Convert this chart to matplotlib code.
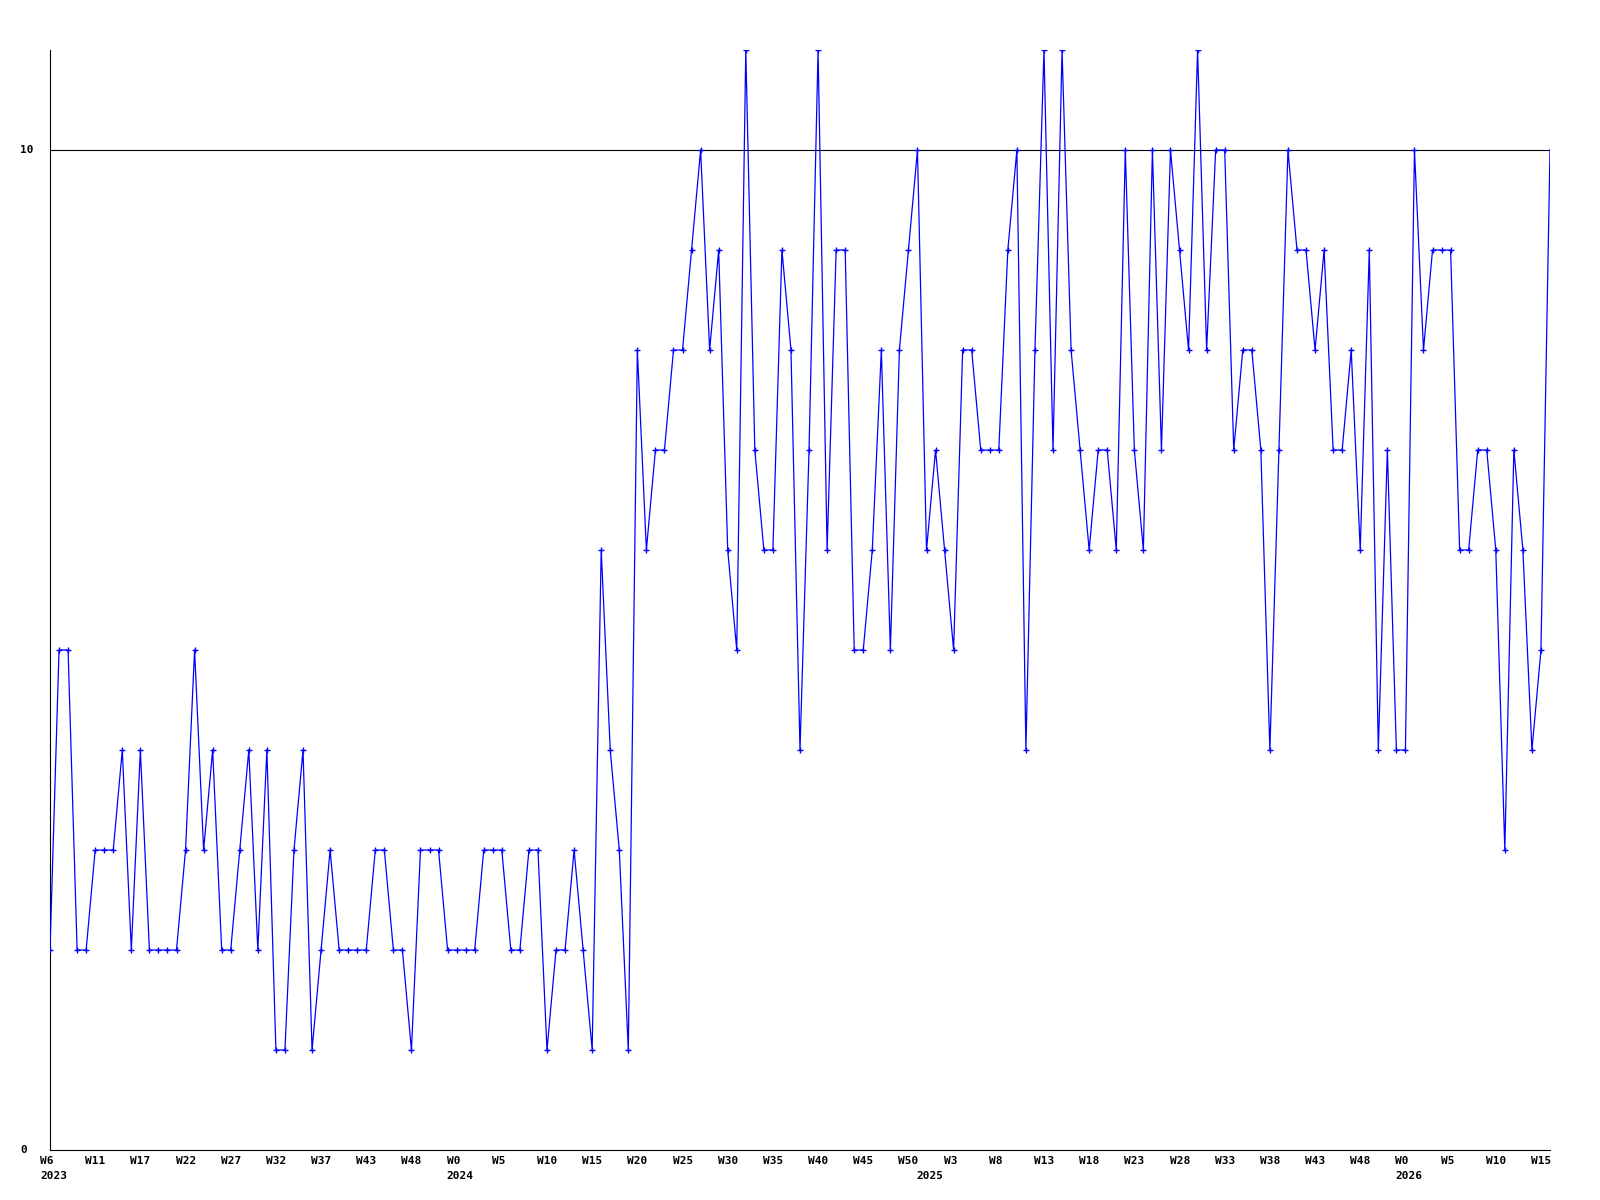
import matplotlib
matplotlib.use('Agg')
import matplotlib.pyplot as plt

# weekly values, W6 2023 .. W15 2026
values = [2, 5, 5, 2, 2, 3, 3, 3, 4, 2,
          4, 2, 2, 2, 2, 3, 5, 3, 4, 2,
          2, 3, 4, 2, 4, 1, 1, 3, 4, 1,
          2, 3, 2, 2, 2, 2, 3, 3, 2, 2,
          1, 3, 3, 3, 2, 2, 2, 2, 3, 3,
          3, 2, 2, 3, 3, 1, 2, 2, 3, 2,
          1, 6, 4, 3, 1, 8, 6, 7, 7, 8,
          8, 9, 10, 8, 9, 6, 5, 11, 7, 6,
          6, 9, 8, 4, 7, 11, 6, 9, 9, 5,
          5, 6, 8, 5, 8, 9, 10, 6, 7, 6,
          5, 8, 8, 7, 7, 7, 9, 10, 4, 8,
          11, 7, 11, 8, 7, 6, 7, 7, 6, 10,
          7, 6, 10, 7, 10, 9, 8, 11, 8, 10,
          10, 7, 8, 8, 7, 4, 7, 10, 9, 9,
          8, 9, 7, 7, 8, 6, 9, 4, 7, 4,
          4, 10, 8, 9, 9, 9, 6, 6, 7, 7,
          6, 3, 7, 6, 4, 5, 10]

week_labels = ['W6', 'W11', 'W17', 'W22', 'W27', 'W32', 'W37', 'W43', 'W48',
               'W0', 'W5', 'W10', 'W15', 'W20', 'W25', 'W30', 'W35', 'W40',
               'W45', 'W50', 'W3', 'W8', 'W13', 'W18', 'W23', 'W28', 'W33',
               'W38', 'W43', 'W48', 'W0', 'W5', 'W10', 'W15']
week_pos = list(range(0, 166, 5))

years = ['2023', '2024', '2025', '2026']
year_pos = [0, 45, 97, 150]

y_labels = ['0', '10']
y_pos = [0, 10]

x = list(range(len(values)))
font = dict(family='DejaVu Sans Mono', fontweight='bold', fontsize=8)

fig = plt.figure(figsize=(16, 12), dpi=100)
ax = fig.add_axes([50 / 1600, 50 / 1200, 1500 / 1600, 1100 / 1200])

ax.axhline(10, color='black', lw=0.8, zorder=1)
ax.plot(x, values, color='#0000ff', lw=0.9, marker='+', ms=4, mew=1.0,
        markevery=slice(0, len(values) - 1), zorder=3)

ax.set_xlim(0, len(values) - 1)
ax.set_ylim(0, 11)
ax.set_xticks([])
ax.set_yticks([])
for s in ['top', 'right']:
    ax.spines[s].set_visible(False)
for s in ['left', 'bottom']:
    ax.spines[s].set_color('black')
    ax.spines[s].set_linewidth(0.8)

# x labels, left aligned a bit before each point
for p, lab in zip(week_pos, week_labels):
    ax.annotate(lab, xy=(p, 0), xycoords=('data', 'axes fraction'),
                xytext=(-10, -6), textcoords='offset pixels',
                ha='left', va='top', annotation_clip=False, **font)
for p, lab in zip(year_pos, years):
    ax.annotate(lab, xy=(p, 0), xycoords=('data', 'axes fraction'),
                xytext=(-10, -21), textcoords='offset pixels',
                ha='left', va='top', annotation_clip=False, **font)

for p, lab in zip(y_pos, y_labels):
    ax.annotate(lab, xy=(0, p), xycoords=('axes fraction', 'data'),
                xytext=(-30, 0), textcoords='offset pixels',
                ha='left', va='center', annotation_clip=False, **font)

plt.savefig('out.png', dpi=100)
